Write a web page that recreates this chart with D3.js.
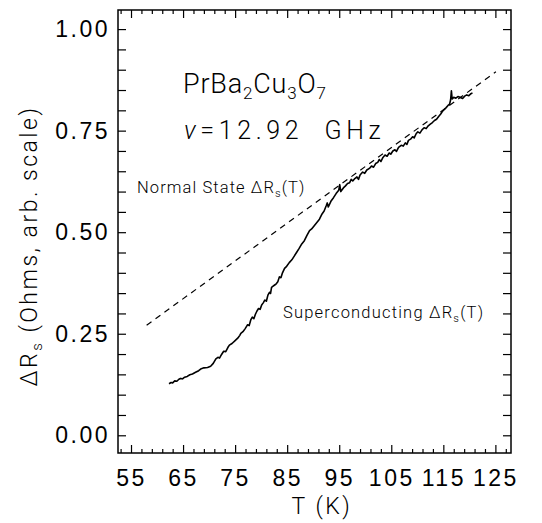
<!DOCTYPE html>
<html>
<head>
<meta charset="utf-8">
<title>PrBa2Cu3O7 surface resistance</title>
<script src="https://d3js.org/d3.v7.min.js"></script>
<style>
  body { margin: 0; background: #fff; }
  svg { font-family: "Roboto", "Liberation Sans", Arial, sans-serif; font-weight: 300; }
  .axis .domain { display: none; }
  .axis line { stroke: #000; stroke-width: 1.2; }
  .axis text { font-size: 23px; fill: #000; }
  .lbl { fill: #000; white-space: pre; }
</style>
</head>
<body>
<svg width="542" height="523"></svg>
<script>

// superconducting state
var tempK = [62.3, 62.7, 63.0, 63.4, 63.8, 64.2, 64.5, 64.9, 65.3, 65.8, 66.3, 66.8, 67.4, 68.0, 68.5, 69.0,
  69.7, 70.3, 70.8, 71.3, 71.7, 72.0, 72.4, 72.8, 73.2, 73.6, 73.9, 74.4, 75.0, 75.5, 75.9, 76.1, 76.5,
  76.9, 77.2, 77.4, 77.7, 78.0, 78.3, 78.6, 78.9, 79.2, 79.5, 79.8, 80.1, 80.4, 80.7, 81.0, 81.3, 81.6,
  81.8, 82.0, 82.3, 82.6, 82.9, 83.2, 83.5, 83.8, 84.1, 84.5, 84.9, 85.4, 85.9, 86.3, 86.8, 87.3, 87.8,
  88.3, 88.8, 89.3, 89.7, 90.2, 90.7, 91.2, 91.7, 92.1, 92.5, 92.7, 92.9, 93.4, 93.9, 94.4, 94.9, 95.1,
  95.3, 95.8, 96.2, 96.6, 97.0, 97.3, 97.6, 98.0, 98.4, 98.7, 99.0, 99.5, 99.9, 100.3, 100.8, 101.2,
  101.6, 102.0, 102.4, 102.7, 103.0, 103.4, 103.8, 104.2, 104.6, 104.9, 105.3, 105.7, 106.0, 106.4,
  106.9, 107.3, 107.7, 108.0, 108.3, 108.7, 109.1, 109.4, 109.8, 110.1, 110.5, 110.9, 111.3, 111.7,
  112.1, 112.5, 112.9, 113.3, 113.7, 114.1, 114.5, 114.8, 115.1, 115.5, 115.9, 116.2, 116.4, 116.55,
  116.7, 117.0, 117.4, 117.8, 118.2, 118.7, 119.1, 119.5, 119.9, 120.3, 120.6];
var deltaRs = [0.127, 0.130, 0.129, 0.134, 0.133, 0.138, 0.140, 0.139, 0.143, 0.145, 0.149, 0.151, 0.155,
  0.159, 0.164, 0.166, 0.167, 0.170, 0.177, 0.188, 0.192, 0.190, 0.199, 0.207, 0.206, 0.216, 0.222,
  0.226, 0.233, 0.239, 0.246, 0.251, 0.255, 0.262, 0.268, 0.272, 0.270, 0.284, 0.291, 0.287, 0.298,
  0.306, 0.312, 0.310, 0.321, 0.326, 0.333, 0.330, 0.345, 0.352, 0.349, 0.364, 0.367, 0.370, 0.373,
  0.378, 0.390, 0.388, 0.400, 0.411, 0.416, 0.425, 0.432, 0.440, 0.450, 0.460, 0.471, 0.479, 0.492,
  0.504, 0.508, 0.516, 0.524, 0.532, 0.545, 0.552, 0.565, 0.572, 0.562, 0.576, 0.585, 0.595, 0.603,
  0.617, 0.600, 0.609, 0.614, 0.620, 0.622, 0.630, 0.626, 0.632, 0.636, 0.630, 0.641, 0.648, 0.645,
  0.653, 0.657, 0.663, 0.660, 0.669, 0.672, 0.679, 0.674, 0.684, 0.690, 0.687, 0.695, 0.692, 0.700,
  0.703, 0.699, 0.709, 0.714, 0.712, 0.720, 0.716, 0.726, 0.729, 0.735, 0.732, 0.743, 0.747, 0.744,
  0.752, 0.757, 0.755, 0.762, 0.766, 0.770, 0.775, 0.778, 0.785, 0.791, 0.797, 0.801, 0.806, 0.812,
  0.815, 0.826, 0.848, 0.828, 0.832, 0.830, 0.834, 0.832, 0.829, 0.835, 0.838, 0.836, 0.841, 0.843];

// normal state extrapolation (dashed)
var normalT = [58.0, 125.1];
var normalR = [0.271, 0.895];

var xMajor = [55, 65, 75, 85, 95, 105, 115, 125];
var xMinor = [53, 57, 59, 61, 63, 67, 69, 71, 73, 77, 79, 81, 83, 87, 89, 91, 93, 97, 99, 101, 103,
  107, 109, 111, 113, 117, 119, 121, 123, 127];
var yMajor = [0, 0.25, 0.5, 0.75, 1.0];
var yLabels = ["0.00", "0.25", "0.50", "0.75", "1.00"];
var yMinor = [0.05, 0.10, 0.15, 0.20, 0.30, 0.35, 0.40, 0.45, 0.55, 0.60, 0.65, 0.70, 0.80, 0.85,
  0.90, 0.95];

var svg = d3.select("svg"),
    margin = {top: 10, right: 31, bottom: 70, left: 118},
    width = +svg.attr("width") - margin.left - margin.right,
    height = +svg.attr("height") - margin.top - margin.bottom,
    g = svg.append("g").attr("transform", "translate(" + margin.left + "," + margin.top + ")");

var x = d3.scaleLinear().domain([52.5, 128]).range([0, width]);
var y = d3.scaleLinear().domain([-0.0436, 1.047]).range([height, 0]);

// bottom + top axes, ticks pointing in
g.append("g").attr("class", "axis")
  .attr("transform", "translate(0," + height + ")")
  .call(d3.axisBottom(x).tickValues(xMajor).tickSize(-8).tickPadding(17).tickFormat(d3.format("d")));
g.append("g").attr("class", "axis")
  .attr("transform", "translate(0," + height + ")")
  .call(d3.axisBottom(x).tickValues(xMinor).tickSize(-4).tickFormat(""));
g.append("g").attr("class", "axis")
  .call(d3.axisTop(x).tickValues(xMajor).tickSize(-8).tickFormat(""));
g.append("g").attr("class", "axis")
  .call(d3.axisTop(x).tickValues(xMinor).tickSize(-4).tickFormat(""));

// left + right axes
g.append("g").attr("class", "axis")
  .call(d3.axisLeft(y).tickValues(yMajor).tickSize(-8).tickPadding(8)
    .tickFormat(function(d, i) { return yLabels[i]; }));
g.append("g").attr("class", "axis")
  .call(d3.axisLeft(y).tickValues(yMinor).tickSize(-8).tickFormat(""));
g.append("g").attr("class", "axis")
  .attr("transform", "translate(" + width + ",0)")
  .call(d3.axisRight(y).tickValues(yMajor.concat(yMinor)).tickSize(-8).tickFormat(""));

g.selectAll(".axis text").attr("letter-spacing", "2.5px");

// frame
g.append("rect")
  .attr("width", width).attr("height", height)
  .attr("fill", "none").attr("stroke", "#000").attr("stroke-width", 1.5);

// normal state dashed line
g.append("path")
  .datum(d3.zip(normalT, normalR))
  .attr("fill", "none").attr("stroke", "#000").attr("stroke-width", 1.2)
  .attr("stroke-dasharray", "6,5")
  .attr("d", d3.line().x(function(d) { return x(d[0]); }).y(function(d) { return y(d[1]); }));

// superconducting curve
g.append("path")
  .datum(d3.zip(tempK, deltaRs))
  .attr("fill", "none").attr("stroke", "#000").attr("stroke-width", 1.6)
  .attr("stroke-linejoin", "round")
  .attr("d", d3.line().x(function(d) { return x(d[0]); }).y(function(d) { return y(d[1]); }));

// axis titles
svg.append("text").attr("class", "lbl")
  .attr("x", 322).attr("y", 514)
  .attr("text-anchor", "middle")
  .attr("font-size", 23).attr("letter-spacing", "2.5px")
  .text("T (K)");

var yl = svg.append("text").attr("class", "lbl")
  .attr("transform", "translate(37,246) rotate(-90)")
  .attr("text-anchor", "middle")
  .attr("font-size", 23).attr("letter-spacing", "2.5px");
yl.append("tspan").text("ΔR");
yl.append("tspan").attr("font-size", 15).attr("dy", 5).text("s");
yl.append("tspan").attr("dy", -5).text(" (Ohms, arb. scale)");

// compound + frequency
var t1 = svg.append("text").attr("class", "lbl")
  .attr("x", 183).attr("y", 93)
  .attr("font-size", 27).attr("letter-spacing", "0.8px");
t1.append("tspan").text("PrBa");
t1.append("tspan").attr("font-size", 17).attr("dy", 6).text("2");
t1.append("tspan").attr("dy", -6).text("Cu");
t1.append("tspan").attr("font-size", 17).attr("dy", 6).text("3");
t1.append("tspan").attr("dy", -6).text("O");
t1.append("tspan").attr("font-size", 17).attr("dy", 6).text("7");

var t2 = svg.append("text").attr("class", "lbl")
  .attr("x", 184).attr("y", 139)
  .attr("font-size", 25).attr("letter-spacing", "4.6px");
t2.append("tspan").attr("font-style", "italic").text("ν");
t2.append("tspan").text("=12.92  GHz");

// curve annotations
function annot(px, py, head, sp) {
  var t = svg.append("text").attr("class", "lbl")
    .attr("x", px).attr("y", py)
    .attr("font-size", 16.5).attr("letter-spacing", sp);
  t.append("tspan").text(head + " ΔR");
  t.append("tspan").attr("font-size", 11).attr("dy", 4).text("s");
  t.append("tspan").attr("dy", -4).text("(T)");
}
annot(137, 193, "Normal State", "1.1px");
annot(283, 318, "Superconducting", "1.2px");

</script>
</body>
</html>
